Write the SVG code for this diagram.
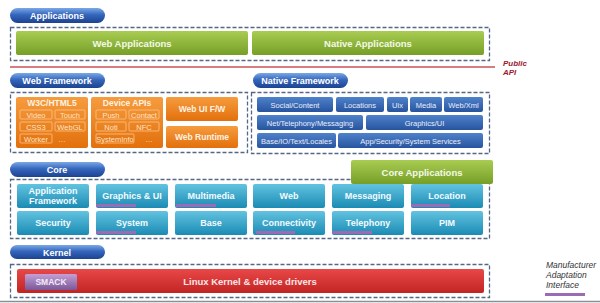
<svg xmlns="http://www.w3.org/2000/svg" width="600" height="303" viewBox="0 0 600 303">
<defs>
<linearGradient id="gPill" x1="0" y1="0" x2="0" y2="1"><stop offset="0" stop-color="#7aa8e6"/><stop offset="0.45" stop-color="#3566bd"/><stop offset="1" stop-color="#1c438f"/></linearGradient>
<linearGradient id="gNat" x1="0" y1="0" x2="0" y2="1"><stop offset="0" stop-color="#4f82cc"/><stop offset="1" stop-color="#28549f"/></linearGradient>
<linearGradient id="gCore" x1="0" y1="0" x2="0" y2="1"><stop offset="0" stop-color="#62c3e0"/><stop offset="1" stop-color="#1b8bb4"/></linearGradient>
<linearGradient id="gGreen" x1="0" y1="0" x2="0" y2="1"><stop offset="0" stop-color="#a9cc52"/><stop offset="1" stop-color="#769f27"/></linearGradient>
<linearGradient id="gOrange" x1="0" y1="0" x2="0" y2="1"><stop offset="0" stop-color="#f69c3e"/><stop offset="1" stop-color="#e2700c"/></linearGradient>
<linearGradient id="gRed" x1="0" y1="0" x2="0" y2="1"><stop offset="0" stop-color="#e84848"/><stop offset="1" stop-color="#c22424"/></linearGradient>
<linearGradient id="gSmack" x1="0" y1="0" x2="0" y2="1"><stop offset="0" stop-color="#c4a0d6"/><stop offset="1" stop-color="#7a5797"/></linearGradient>
</defs>
<style>
text{font-family:"Liberation Sans",Arial,sans-serif;font-weight:bold;fill:#fff;text-anchor:middle}
.dash{fill:none;stroke:#556785;stroke-width:1.3;stroke-dasharray:4 2}
.pill{fill:url(#gPill)}
.pt{font-size:9px}
.nat{fill:url(#gNat);}
.nt{font-size:7.5px;font-weight:normal;fill:#e8eefa}
.core{fill:url(#gCore)}
.ct{font-size:9px;fill:#f2fbff}
.green{fill:url(#gGreen)}
.gt{font-size:9.5px;fill:#f4f9e6}
.orange{fill:url(#gOrange)}
.ot{font-size:8.5px;fill:#fff2e2}
.ib{fill:none;stroke:#fcc48c;stroke-width:0.8}
.it{font-size:7.5px;font-weight:normal;fill:#ffe3c6}
.mai{fill:#9b6bb3}
.note{font-style:italic;font-weight:normal;font-size:8.5px;fill:#333;text-anchor:start}
</style>
<rect width="600" height="303" fill="#fff"/>
<line x1="0" y1="301.5" x2="600" y2="301.5" stroke="#8a8f96" stroke-width="1.5"/>

<g id="applications">
<rect class="pill" x="10" y="8" width="95" height="15" rx="7.5"/>
<text class="pt" x="57" y="19">Applications</text>
<rect class="dash" x="10.5" y="27.5" width="479" height="33"/>
</g>
<g id="web-applications">
<rect class="green" x="16" y="31" width="232" height="24" rx="2"/>
<text class="gt" x="132" y="46.5">Web Applications</text>
</g>
<g id="native-applications">
<rect class="green" x="252" y="31" width="232" height="24" rx="2"/>
<text class="gt" x="368" y="46.5">Native Applications</text>
</g>
<g id="public-api">
<line x1="10" y1="67" x2="495" y2="67" stroke="#c9505a" stroke-width="1.5"/>
<text x="503" y="66" style="font-size:8px;font-style:italic;fill:#a01830;text-anchor:start">Public</text>
<text x="503" y="75" style="font-size:8px;font-style:italic;fill:#a01830;text-anchor:start">API</text>
</g>

<g id="web-framework">
<rect class="pill" x="10" y="73" width="95" height="15" rx="7.5"/>
<text class="pt" x="57" y="84">Web Framework</text>
<rect class="dash" x="10.5" y="92.5" width="237" height="60"/>
</g>
<g id="w3c-html5">
<rect class="orange" x="16" y="97" width="72" height="51" rx="2"/>
<text class="ot" x="52" y="106">W3C/HTML5</text>
<rect class="ib" x="20" y="110" width="32" height="9" rx="1"/><text class="it" x="36" y="117.5">Video</text>
<rect class="ib" x="55" y="110" width="30" height="9" rx="1"/><text class="it" x="70" y="117.5">Touch</text>
<rect class="ib" x="20" y="122" width="32" height="9" rx="1"/><text class="it" x="36" y="129.5">CSS3</text>
<rect class="ib" x="55" y="122" width="30" height="9" rx="1"/><text class="it" x="70" y="129.5">WebGL</text>
<rect class="ib" x="20" y="134" width="32" height="9" rx="1"/><text class="it" x="36" y="141.5">Worker</text>
<text class="it" x="62" y="141.5">…</text>
</g>
<g id="device-apis">
<rect class="orange" x="91" y="97" width="72" height="51" rx="2"/>
<text class="ot" x="127" y="106">Device APIs</text>
<rect class="ib" x="96" y="110" width="30" height="9" rx="1"/><text class="it" x="111" y="117.5">Push</text>
<rect class="ib" x="129" y="110" width="30" height="9" rx="1"/><text class="it" x="144" y="117.5">Contact</text>
<rect class="ib" x="96" y="122" width="30" height="9" rx="1"/><text class="it" x="111" y="129.5">Noti</text>
<rect class="ib" x="129" y="122" width="30" height="9" rx="1"/><text class="it" x="144" y="129.5">NFC</text>
<rect class="ib" x="96" y="134" width="38" height="9" rx="1"/><text class="it" x="115" y="141.5">SystemInfo</text>
<text class="it" x="149" y="141.5">…</text>
</g>
<g id="web-ui-fw">
<rect class="orange" x="166" y="97" width="72" height="24" rx="2"/>
<text class="ot" x="202" y="112">Web UI F/W</text>
</g>
<g id="web-runtime">
<rect class="orange" x="166" y="126" width="72" height="22" rx="2"/>
<text class="ot" x="202" y="140">Web Runtime</text>
</g>

<g id="native-framework">
<rect class="pill" x="253" y="73" width="95" height="15" rx="7.5"/>
<text class="pt" x="300" y="84">Native Framework</text>
<rect class="dash" x="251.5" y="92.5" width="238" height="61"/>
</g>
<g id="nf-social"><rect class="nat" x="257" y="97" width="76" height="15" rx="2"/><text class="nt" x="295" y="107.5">Social/Content</text></g>
<g id="nf-locations"><rect class="nat" x="336" y="97" width="48" height="15" rx="2"/><text class="nt" x="360" y="107.5">Locations</text></g>
<g id="nf-uix"><rect class="nat" x="387" y="97" width="21" height="15" rx="2"/><text class="nt" x="397.5" y="107.5">Uix</text></g>
<g id="nf-media"><rect class="nat" x="410" y="97" width="32" height="15" rx="2"/><text class="nt" x="426" y="107.5">Media</text></g>
<g id="nf-webxml"><rect class="nat" x="444" y="97" width="39" height="15" rx="2"/><text class="nt" x="463.5" y="107.5">Web/Xml</text></g>
<g id="nf-net"><rect class="nat" x="257" y="115" width="106" height="15" rx="2"/><text class="nt" x="310" y="125.5">Net/Telephony/Messaging</text></g>
<g id="nf-graphics"><rect class="nat" x="366" y="115" width="117" height="15" rx="2"/><text class="nt" x="424.5" y="125.5">Graphics/UI</text></g>
<g id="nf-base"><rect class="nat" x="257" y="133" width="79" height="15" rx="2"/><text class="nt" x="296.5" y="143.5">Base/IO/Text/Locales</text></g>
<g id="nf-app"><rect class="nat" x="338" y="133" width="145" height="15" rx="2"/><text class="nt" x="410.5" y="143.5">App/Security/System  Services</text></g>

<g id="core">
<rect class="pill" x="10" y="162" width="95" height="15" rx="7.5"/>
<text class="pt" x="57" y="173">Core</text>
<rect class="dash" x="10.5" y="179.5" width="479" height="59"/>
</g>
<g id="core-app-fw"><rect class="core" x="17" y="184" width="72" height="24" rx="2"/><text class="ct" x="53" y="194">Application</text><text class="ct" x="53" y="204">Framework</text></g>
<g id="core-graphics"><rect class="core" x="96" y="184" width="72" height="24" rx="2"/><text class="ct" x="132" y="199">Graphics &amp; UI</text><rect class="mai" x="96" y="204" width="40" height="3"/></g>
<g id="core-multimedia"><rect class="core" x="175" y="184" width="72" height="24" rx="2"/><text class="ct" x="211" y="199">Multimedia</text><rect class="mai" x="176" y="204" width="40" height="3"/></g>
<g id="core-web"><rect class="core" x="253" y="184" width="72" height="24" rx="2"/><text class="ct" x="289" y="199">Web</text></g>
<g id="core-messaging"><rect class="core" x="332" y="184" width="72" height="24" rx="2"/><text class="ct" x="368" y="199">Messaging</text></g>
<g id="core-location"><rect class="core" x="411" y="184" width="72" height="24" rx="2"/><text class="ct" x="447" y="199">Location</text><rect class="mai" x="411" y="204" width="39" height="3"/></g>
<g id="core-security"><rect class="core" x="17" y="211" width="72" height="24" rx="2"/><text class="ct" x="53" y="226">Security</text></g>
<g id="core-system"><rect class="core" x="96" y="211" width="72" height="24" rx="2"/><text class="ct" x="132" y="226">System</text><rect class="mai" x="96" y="231" width="40" height="3"/></g>
<g id="core-base"><rect class="core" x="175" y="211" width="72" height="24" rx="2"/><text class="ct" x="211" y="226">Base</text></g>
<g id="core-connectivity"><rect class="core" x="253" y="211" width="72" height="24" rx="2"/><text class="ct" x="289" y="226">Connectivity</text><rect class="mai" x="256" y="231" width="39" height="3"/></g>
<g id="core-telephony"><rect class="core" x="332" y="211" width="72" height="24" rx="2"/><text class="ct" x="368" y="226">Telephony</text><rect class="mai" x="332" y="231" width="40" height="3"/></g>
<g id="core-pim"><rect class="core" x="411" y="211" width="72" height="24" rx="2"/><text class="ct" x="447" y="226">PIM</text></g>
<g id="core-applications">
<rect class="green" x="351" y="160" width="142" height="24" rx="2"/>
<text class="gt" x="422" y="175.5">Core Applications</text>
</g>

<g id="kernel">
<rect class="pill" x="10" y="245" width="95" height="14" rx="7"/>
<text class="pt" x="57" y="255.5">Kernel</text>
<rect class="dash" x="10.5" y="264.5" width="479" height="33"/>
</g>
<g id="linux-kernel">
<rect fill="url(#gRed)" x="17" y="269" width="467" height="24" rx="2"/>
<text x="250" y="284.5" style="font-size:9.5px;fill:#fde6e6">Linux Kernel &amp; device drivers</text>
</g>
<g id="smack">
<rect fill="url(#gSmack)" x="25" y="274" width="52" height="16" rx="1.5"/>
<text x="51" y="285" style="font-size:8.5px;fill:#f3eaf8">SMACK</text>
</g>
<g id="manufacturer-adaptation-interface">
<text class="note" x="546" y="268">Manufacturer</text>
<text class="note" x="546" y="278">Adaptation</text>
<text class="note" x="546" y="288">Interface</text>
<rect class="mai" x="545" y="293" width="40" height="3"/>
</g>
<g id="connectors"/>
</svg>
